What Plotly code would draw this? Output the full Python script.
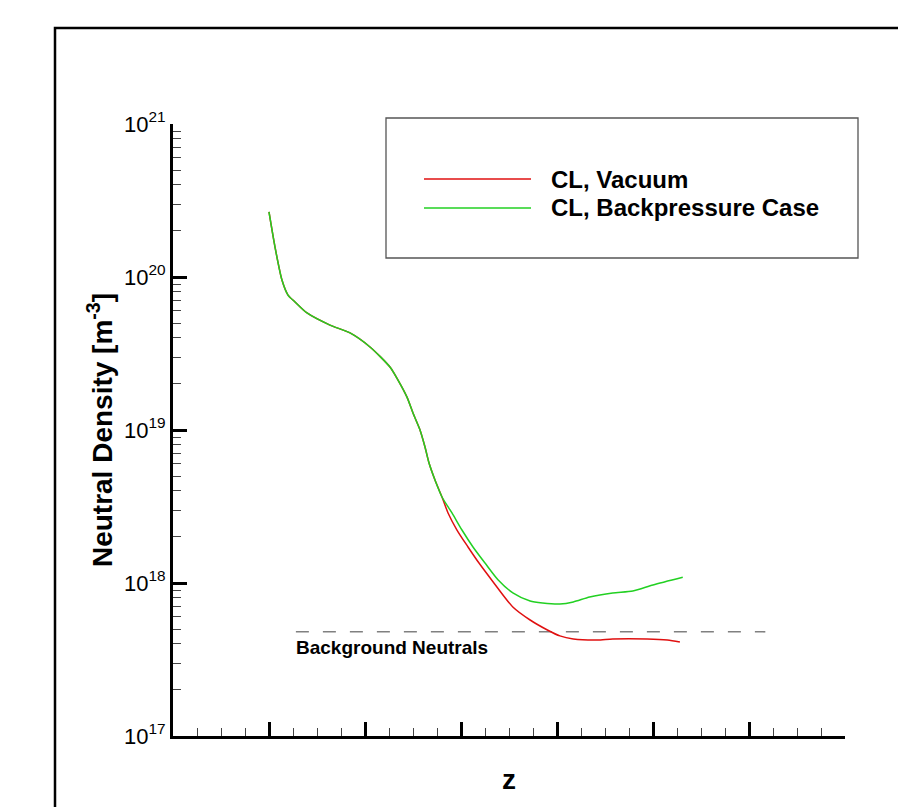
import plotly.graph_objects as go

# ---- data ----
z_shared = [1.00, 1.0625, 1.135, 1.198, 1.271, 1.396, 1.635, 1.844, 2.052, 2.26, 2.344, 2.4375,
            2.50, 2.573, 2.625, 2.667, 2.729, 2.802]
n_shared = [2.66e20, 1.57e20, 9.55e19, 7.62e19, 6.87e19, 5.82e19, 4.85e19, 4.31e19, 3.49e19,
            2.58e19, 2.12e19, 1.64e19, 1.29e19, 1.0e19, 7.74e18, 6.08e18, 4.71e18, 3.65e18]

z_vac = z_shared + [2.865, 2.958, 3.073, 3.1875, 3.333, 3.54, 3.72, 3.90, 4.03, 4.17, 4.42, 4.58,
                    4.94, 5.15, 5.28]
n_vac = n_shared + [2.87e18, 2.22e18, 1.72e18, 1.35e18, 1.02e18, 6.97e17, 5.73e17, 4.93e17, 4.51e17,
                    4.31e17, 4.24e17, 4.31e17, 4.31e17, 4.24e17, 4.11e17]

z_bp = z_shared + [2.906, 3.01, 3.125, 3.25, 3.385, 3.54, 3.72, 3.85, 4.03, 4.17, 4.34, 4.58,
                   4.79, 5.00, 5.31]
n_bp = n_shared + [2.87e18, 2.22e18, 1.72e18, 1.35e18, 1.05e18, 8.61e17, 7.62e17, 7.40e17, 7.29e17,
                   7.52e17, 8.10e17, 8.61e17, 8.87e17, 9.71e17, 1.09e18]

bg_z = [1.28, 6.17]
bg_n = [4.8e17, 4.8e17]

series_names = ["CL, Vacuum", "CL, Backpressure Case"]
series_colors = ["#e01010", "#22d022"]
bg_label = "Background Neutrals"

decades = [17, 18, 19, 20, 21]
tick_vals = [10.0 ** d for d in decades]
tick_text = [f"10<sup>{d}</sup>" for d in decades]
minor_vals = [m * 10.0 ** d for d in decades[:-1] for m in range(2, 10)]

FONT = "Liberation Sans, Arial, Helvetica, sans-serif"

fig = go.Figure()
fig.add_trace(go.Scatter(x=bg_z, y=bg_n, mode="lines", showlegend=False,
                         line=dict(color="#808080", width=1.6, dash="13px,14px")))
fig.add_trace(go.Scatter(x=z_vac, y=n_vac, mode="lines", name=series_names[0],
                         line=dict(color=series_colors[0], width=1.5, shape="spline", smoothing=0.7)))
fig.add_trace(go.Scatter(x=z_bp, y=n_bp, mode="lines", name=series_names[1],
                         line=dict(color=series_colors[1], width=1.5, shape="spline", smoothing=0.7)))

# outer frame
fig.add_shape(type="rect", xref="paper", yref="paper", x0=(55 - 173) / 672, x1=2.0,
              y0=-1.0, y1=(736 - 28) / 612, line=dict(color="black", width=2.5), layer="below")

# custom legend
lx0, lx1 = (386 - 173) / 672, (858 - 173) / 672
ly0, ly1 = (736 - 258) / 612, (736 - 118) / 612
fig.add_shape(type="rect", xref="paper", yref="paper", x0=lx0, x1=lx1, y0=ly0, y1=ly1,
              line=dict(color="#555555", width=1.3), fillcolor="white")
sx0, sx1 = (424 - 173) / 672, (531 - 173) / 672
for i, (name, col) in enumerate(zip(series_names, series_colors)):
    py = [179, 208][i]
    yy = (736 - py) / 612
    fig.add_shape(type="line", xref="paper", yref="paper", x0=sx0, x1=sx1, y0=yy, y1=yy,
                  line=dict(color=col, width=1.5))
    fig.add_annotation(xref="paper", yref="paper", x=(549 - 173) / 672, y=yy, text=f"<b>{name}</b>",
                       showarrow=False, xanchor="left", yanchor="middle",
                       font=dict(family=FONT, size=24, color="black"))

fig.add_annotation(xref="paper", yref="paper", x=(294 - 173) / 672, y=(736 - 647) / 612,
                   text=f"<b>{bg_label}</b>", showarrow=False, xanchor="left", yanchor="middle",
                   font=dict(family=FONT, size=19, color="black"))

fig.update_layout(
    width=898, height=807,
    margin=dict(l=173, r=53, t=124, b=71, pad=0),
    paper_bgcolor="white", plot_bgcolor="white",
    showlegend=False,
    font=dict(family=FONT, color="black"),
)
fig.update_xaxes(
    range=[0, 7], showgrid=False, zeroline=False,
    showline=True, linecolor="black", linewidth=3,
    ticks="inside", ticklen=14, tickwidth=3, tickcolor="black", dtick=1, tick0=0,
    showticklabels=False,
    minor=dict(ticks="inside", ticklen=8, tickwidth=1, tickcolor="#444444", dtick=0.25, tick0=0),
    title=dict(text="<b>z</b>", font=dict(family=FONT, size=28), standoff=32),
)
fig.update_yaxes(
    type="log", range=[17, 21], showgrid=False, zeroline=False,
    showline=True, linecolor="black", linewidth=3,
    ticks="inside", ticklen=14, tickwidth=3, tickcolor="black",
    tickmode="array", tickvals=tick_vals, ticktext=tick_text,
    tickfont=dict(family=FONT, size=22),
    minor=dict(ticks="inside", ticklen=8, tickwidth=1, tickcolor="#444444",
               tickmode="array", tickvals=minor_vals),
    title=dict(text="<b>Neutral Density [m<sup>-3</sup>]</b>", font=dict(family=FONT, size=28), standoff=4),
)

fig.write_html("out.html")
